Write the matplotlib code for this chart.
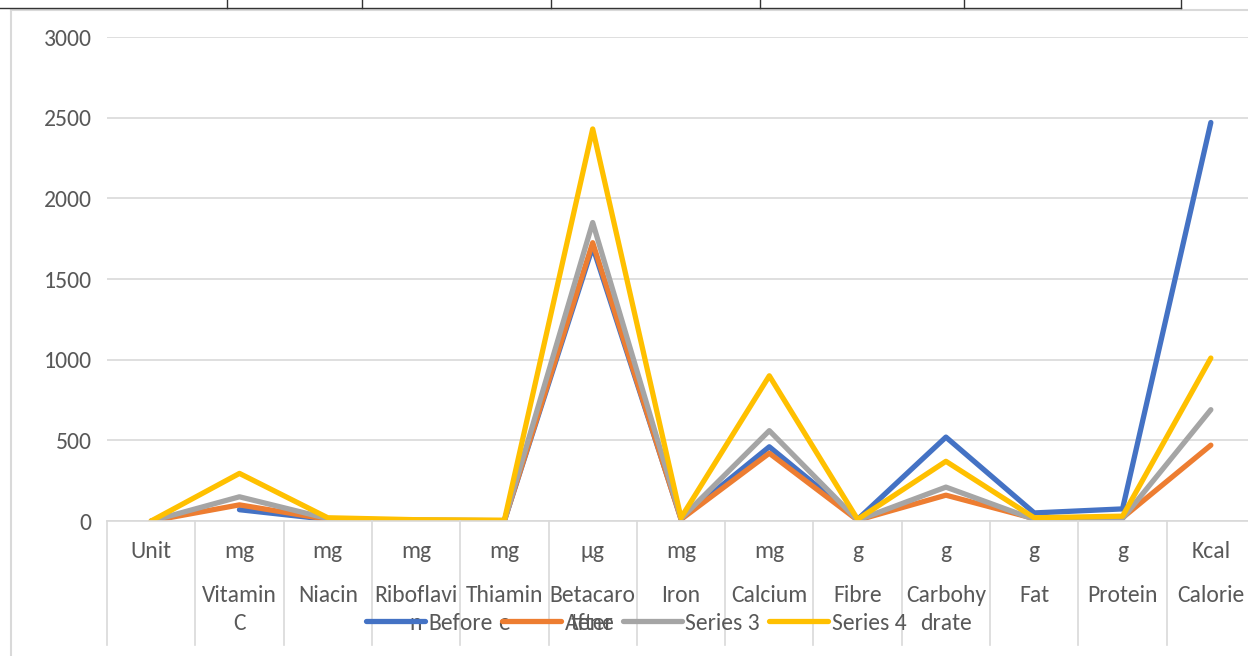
import matplotlib
matplotlib.use('Agg')
import matplotlib.pyplot as plt
from matplotlib.lines import Line2D
import matplotlib.transforms as mtransforms
import numpy as np

plt.rcParams['font.family'] = ['Carlito', 'Archivo Narrow', 'Liberation Sans', 'DejaVu Sans']

# category axis: unit row and nutrient name row
units = ['Unit', 'mg', 'mg', 'mg', 'mg', 'µg', 'mg', 'mg', 'g', 'g', 'g', 'g', 'Kcal']
names = ['', 'Vitamin\nC', 'Niacin', 'Riboflavi\nn', 'Thiamin\ne', 'Betacaro\ntene', 'Iron',
         'Calcium', 'Fibre', 'Carbohy\ndrate', 'Fat', 'Protein', 'Calorie']

# series values
before   = [np.nan, 70, 10, 5, 2, 1700, 15, 460, 10, 520, 50, 75, 2470]
after    = [0, 100, 10, 3, 2, 1725, 10, 420, 5, 160, 15, 20, 470]
series3  = [0, 150, 15, 3, 2, 1850, 15, 560, 5, 210, 10, 15, 690]
series4  = [0, 295, 20, 8, 5, 2430, 20, 900, 10, 370, 20, 30, 1010]

series_names = ['Before', 'After', 'Series 3', 'Series 4']
colors = ['#4472C4', '#ED7D31', '#A5A5A5', '#FFC000']

W, H = 1248, 656
fig = plt.figure(figsize=(W / 100, H / 100), dpi=100)

# plot area (right side runs past the cropped image edge)
left, right, bottom, top = 107, 1255, 521, 37
ax = fig.add_axes([left / W, 1 - bottom / H, (right - left) / W, (bottom - top) / H])
x = np.arange(len(units))
for vals, c, lab in zip([before, after, series3, series4], colors, series_names):
    ax.plot(x, vals, color=c, lw=3.8, solid_capstyle='round', solid_joinstyle='round', label=lab)

ax.set_xlim(-0.5, len(units) - 0.5)
ax.set_ylim(0, 3000)
ax.set_yticks(np.arange(0, 3001, 500))
ax.tick_params(axis='y', length=0, pad=11, labelsize=17, labelcolor='#595959')
ax.set_xticks([])
ax.grid(axis='y', color='#d9d9d9', lw=1.2)
ax.set_axisbelow(True)
for s in ['left', 'right', 'top']:
    ax.spines[s].set_visible(False)
ax.spines['bottom'].set_color('#d9d9d9')
ax.spines['bottom'].set_linewidth(1.2)

# multi level category labels with separators
trans = mtransforms.blended_transform_factory(ax.transData, ax.transAxes)
ph = bottom - top
def ay(py):
    return (bottom - py) / ph
for b in np.arange(-0.5, len(units)):
    ax.add_line(Line2D([b, b], [0, ay(645)], transform=trans, color='#d9d9d9', lw=1.2, clip_on=False))
for i in range(len(units)):
    ax.text(i, ay(551), units[i], transform=trans, ha='center', va='center', fontsize=17, color='#595959')
    lines = names[i].split('\n')
    for j, ln in enumerate(lines):
        if ln:
            ax.text(i, ay(596 + 28 * j), ln, transform=trans, ha='center', va='center',
                    fontsize=17, color='#595959')

leg = fig.legend(loc='center', bbox_to_anchor=(636 / W, 1 - 623 / H), ncol=4, frameon=False,
                 fontsize=17, handlelength=2.5, handletextpad=0.15, columnspacing=0.4,
                 labelcolor='#595959')

# chart border and the table edge above it
fig.add_artist(Line2D([11 / W, 11 / W], [0, 1 - 10 / H], color='#d9d9d9', lw=1.5))
fig.add_artist(Line2D([11 / W, 1], [1 - 10 / H, 1 - 10 / H], color='#d9d9d9', lw=1.5))
fig.add_artist(Line2D([0, 1181 / W], [1 - 8 / H, 1 - 8 / H], color='#333333', lw=1))
for vx in [227, 362, 551, 760, 964, 1181]:
    fig.add_artist(Line2D([vx / W, vx / W], [1 - 8 / H, 1], color='#333333', lw=1))

fig.savefig('out.png', dpi=100)
